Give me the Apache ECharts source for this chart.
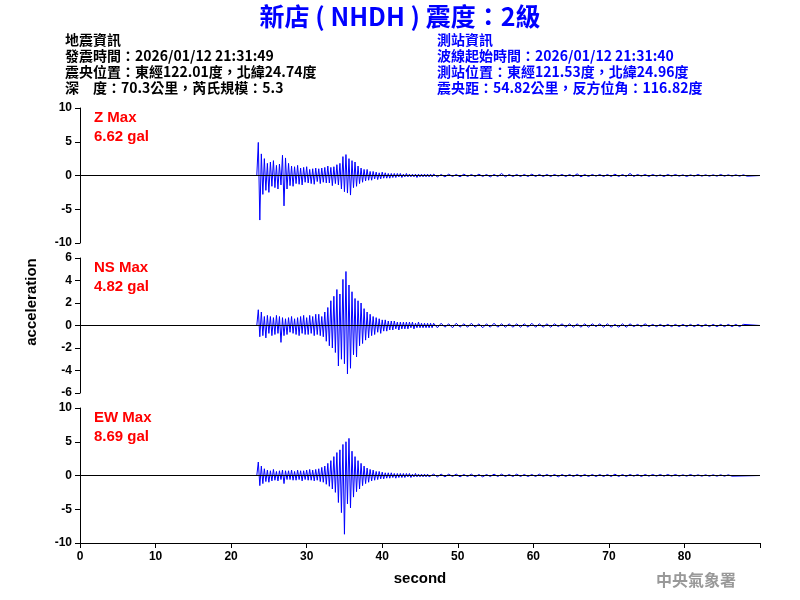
<!DOCTYPE html><html><head><meta charset="utf-8"><script src="https://cdn.jsdelivr.net/npm/echarts@6/dist/echarts.min.js"></script></head><body style="margin:0"><div id="c" style="width:800px;height:600px"></div><script>
const startT = 23.4, dtHead = 0.2, dtTail = 0.5, tailStart = 46.8;
const zHead = [0,4.9,-6.6,3.2,-2.8,2.5,-2.2,1.8,-2.5,2.0,-1.6,2.2,-1.8,1.5,-2.0,1.7,-1.4,3.0,-4.5,2.6,-2.0,1.8,-1.5,1.4,-1.6,1.3,-1.2,1.5,-1.3,1.1,-1.4,1.2,-1.0,1.3,-1.1,0.9,-1.2,1.0,-1.3,1.1,-0.9,1.0,-1.2,1.1,-1.0,1.2,-1.1,1.4,-1.1,1.2,-1.5,1.3,-1.2,1.6,-1.4,1.8,-2.0,2.8,-2.4,3.1,-2.6,2.5,-2.9,2.2,-1.8,2.0,-1.6,1.4,-1.2,1.1,-1.0,0.9,-0.8,0.9,-0.7,0.6,-0.7,0.6,-0.5,0.5,-0.6,0.4,-0.5,0.5,-0.4,0.4,-0.4,0.3,-0.4,0.3,-0.3,0.3,-0.3,0.3,-0.2,0.3,-0.3,0.2,-0.2,0.3,-0.2,0.2,-0.2,0.2,-0.2,0.2,-0.3,0.2,-0.2,0.2,-0.2,0.2,-0.2,0.2,-0.2,0.2,-0.2];
const zTail = [0.2,-0.2,0.15,-0.2,0.2,-0.15,0.15,-0.2,0.2,-0.15,0.15,-0.15,0.2,-0.15,0.15,-0.2,0.15,-0.15,0.3,-0.2,0.15,-0.15,0.15,-0.15,0.15,-0.15,0.2,-0.15,0.15,-0.15,0.15,-0.15,0.15,-0.1,0.15,-0.15,0.15,-0.15,0.25,-0.2,0.15,-0.15,0.15,-0.1,0.15,-0.15,0.15,-0.15,0.2,-0.15,0.15,-0.15,0.3,-0.15,0.15,-0.1,0.15,-0.15,0.15,-0.1,0.1,-0.15,0.15,-0.1,0.15,-0.1,0.1,-0.15,0.1,-0.1,0.15,-0.1,0.1,-0.1,0.1,-0.1,0.15,-0.1,0.1,-0.1,0.1,-0.1,0.1,-0.1];
const nsHead = [0,1.4,-1.0,1.2,-0.9,0.8,-1.1,0.9,-0.7,0.8,-0.9,0.7,-0.8,0.9,-0.7,0.8,-1.5,0.7,-0.9,0.6,-0.8,0.7,-0.6,0.8,-0.7,0.6,-0.8,0.7,-0.9,0.8,-0.7,0.9,-0.8,0.7,-0.8,0.9,-0.7,0.8,-0.9,1.0,-0.8,1.0,-0.9,0.8,-1.0,1.2,-1.4,1.6,-1.8,2.2,-2.0,2.6,-2.4,3.2,-3.6,2.8,-3.0,4.1,-3.4,4.8,-4.3,3.6,-3.8,3.0,-2.6,2.4,-2.8,2.2,-1.8,2.0,-1.6,1.5,-1.3,1.2,-1.1,1.0,-0.9,0.8,-0.8,0.7,-0.6,0.6,-0.7,0.5,-0.5,0.5,-0.5,0.4,-0.4,0.4,-0.4,0.4,-0.3,0.3,-0.4,0.3,-0.3,0.3,-0.3,0.3,-0.3,0.3,-0.2,0.3,-0.3,0.2,-0.2,0.3,-0.2,0.2,-0.2,0.2,-0.2,0.2,-0.2,0.2,-0.2];
const nsTail = [0.2,-0.2,0.2,-0.15,0.15,-0.2,0.2,-0.15,0.15,-0.15,0.2,-0.15,0.15,-0.2,0.15,-0.15,0.2,-0.15,0.15,-0.15,0.15,-0.15,0.15,-0.15,0.15,-0.15,0.2,-0.15,0.15,-0.15,0.15,-0.15,0.15,-0.1,0.15,-0.15,0.15,-0.15,0.15,-0.15,0.15,-0.15,0.15,-0.1,0.15,-0.15,0.15,-0.15,0.1,-0.15,0.15,-0.15,0.15,-0.1,0.1,-0.1,0.15,-0.1,0.1,-0.1,0.1,-0.1,0.1,-0.1,0.1,-0.1,0.1,-0.1,0.1,-0.1,0.1,-0.1,0.1,-0.1,0.1,-0.1,0.1,-0.1,0.1,-0.1,0.1,-0.1,0.1];
const ewHead = [0,2.0,-1.5,1.4,-1.2,1.0,-0.9,0.8,-1.0,0.7,-0.8,0.9,-0.7,0.6,-0.8,0.7,-0.6,0.8,-1.2,0.7,-0.6,0.7,-0.6,0.8,-0.7,0.6,-0.7,0.8,-0.6,0.7,-0.8,0.7,-0.6,0.8,-0.7,0.9,-0.7,0.8,-0.8,0.9,-0.7,1.0,-0.9,1.2,-1.0,1.4,-1.3,1.8,-1.6,2.2,-2.0,2.8,-2.5,3.4,-4.0,3.8,-5.5,4.6,-8.7,5.0,-4.2,5.5,-4.8,3.6,-3.2,2.8,-2.4,2.2,-2.0,1.8,-1.5,1.4,-1.2,1.1,-1.0,0.9,-0.8,0.8,-0.7,0.6,-0.6,0.6,-0.5,0.5,-0.5,0.4,-0.4,0.4,-0.4,0.4,-0.3,0.3,-0.4,0.3,-0.3,0.3,-0.3,0.3,-0.3,0.3,-0.2,0.3,-0.3,0.2,-0.2,0.3,-0.2,0.2,-0.2,0.2,-0.2,0.2,-0.2,0.2,-0.2];
const ewTail = [0.2,-0.2,0.2,-0.2,0.2,-0.15,0.2,-0.2,0.15,-0.15,0.2,-0.2,0.15,-0.2,0.15,-0.15,0.2,-0.15,0.2,-0.15,0.15,-0.15,0.2,-0.15,0.15,-0.15,0.15,-0.15,0.2,-0.15,0.15,-0.15,0.15,-0.2,0.15,-0.15,0.15,-0.15,0.15,-0.15,0.15,-0.15,0.15,-0.15,0.15,-0.15,0.15,-0.15,0.2,-0.15,0.15,-0.15,0.15,-0.1,0.15,-0.15,0.15,-0.1,0.15,-0.1,0.15,-0.1,0.15,-0.1,0.15,-0.1,0.1,-0.1,0.15,-0.1,0.1,-0.1,0.1,-0.1,0.1,-0.1,0.1,-0.1,0.1,-0.1];
const xTicks = [0,10,20,30,40,50,60,70,80];
const pre = [[0,0],[startT,0]];
function build(head, tail){
  const d = pre.slice();
  head.forEach((v,i)=>d.push([startT+i*dtHead, v]));
  tail.forEach((v,i)=>d.push([tailStart+i*dtTail, v]));
  d.push([90,0]);
  return d;
}
const grids=[{top:108,height:135},{top:258,height:135},{top:408,height:135}].map(g=>({left:80,right:40,top:g.top,height:g.height}));
const yRanges=[[-10,10,5],[-6,6,2],[-10,10,5]];
const axLab={color:'#000',fontFamily:'Arial',fontWeight:'bold',fontSize:12};
const xAxis=grids.map((g,i)=>({type:'value',gridIndex:i,min:0,max:90,interval:10,show:i===2,
  axisLine:{onZero:false,lineStyle:{color:'#000'}},axisTick:{lineStyle:{color:'#000'}},splitLine:{show:false},
  axisLabel:Object.assign({formatter:v=>xTicks.includes(v)?v:''},axLab),
  name:i===2?'second':'',nameLocation:'middle',nameGap:28,nameTextStyle:{color:'#000',fontSize:15,fontWeight:'bold',fontFamily:'Arial'}}));
const yAxis=yRanges.map((r,i)=>({type:'value',gridIndex:i,min:r[0],max:r[1],interval:r[2],
  axisLine:{show:true,lineStyle:{color:'#000'}},axisTick:{show:true,lineStyle:{color:'#000'}},splitLine:{show:false},axisLabel:axLab}));
const datas=[build(zHead,zTail),build(nsHead,nsTail),build(ewHead,ewTail)];
const series=[];
datas.forEach((d,i)=>{
  series.push({type:'line',xAxisIndex:i,yAxisIndex:i,data:d,showSymbol:false,lineStyle:{color:'#0000ff',width:1},
    markLine:{silent:true,symbol:'none',label:{show:false},lineStyle:{color:'#000',width:1,type:'solid'},data:[{yAxis:0}]},z:3});
});
const F='"Noto Sans CJK TC", Arial, sans-serif';
const txt=(x,y,t,c,s,w,fam)=>({type:'text',left:x,top:y,style:{text:t,fill:c,font:(w||'bold')+' '+s+'px '+(fam||F)}});
const graphic=[
  {type:'text',left:'center',top:4,style:{text:'新店 ( NHDH ) 震度：2級',fill:'#0000ff',font:'bold 25px '+F}},
  txt(65,33,'地震資訊','#000',14),txt(65,49,'發震時間：2026/01/12 21:31:49','#000',14),
  txt(65,65,'震央位置：東經122.01度，北緯24.74度','#000',14),txt(65,81,'深　度：70.3公里，芮氏規模：5.3','#000',14),
  txt(437,33,'測站資訊','#0000ff',14),txt(437,49,'波線起始時間：2026/01/12 21:31:40','#0000ff',14),
  txt(437,65,'測站位置：東經121.53度，北緯24.96度','#0000ff',14),txt(437,81,'震央距：54.82公里，反方位角：116.82度','#0000ff',14),
  txt(94,110,'Z Max','#ff0000',15,'bold','Arial'),txt(94,129,'6.62 gal','#ff0000',15,'bold','Arial'),
  txt(94,260,'NS Max','#ff0000',15,'bold','Arial'),txt(94,279,'4.82 gal','#ff0000',15,'bold','Arial'),
  txt(94,410,'EW Max','#ff0000',15,'bold','Arial'),txt(94,429,'8.69 gal','#ff0000',15,'bold','Arial'),
  {type:'text',x:32,y:302,rotation:Math.PI/2,style:{text:'acceleration',fill:'#000',font:'bold 15px Arial',align:'center',verticalAlign:'middle'}},
  txt(656,572,'中央氣象署','#999',16)
];
const ch=echarts.init(document.getElementById('c'));
ch.setOption({animation:false,backgroundColor:'#fff',grid:grids,xAxis,yAxis,series,graphic});
</script></body></html>
